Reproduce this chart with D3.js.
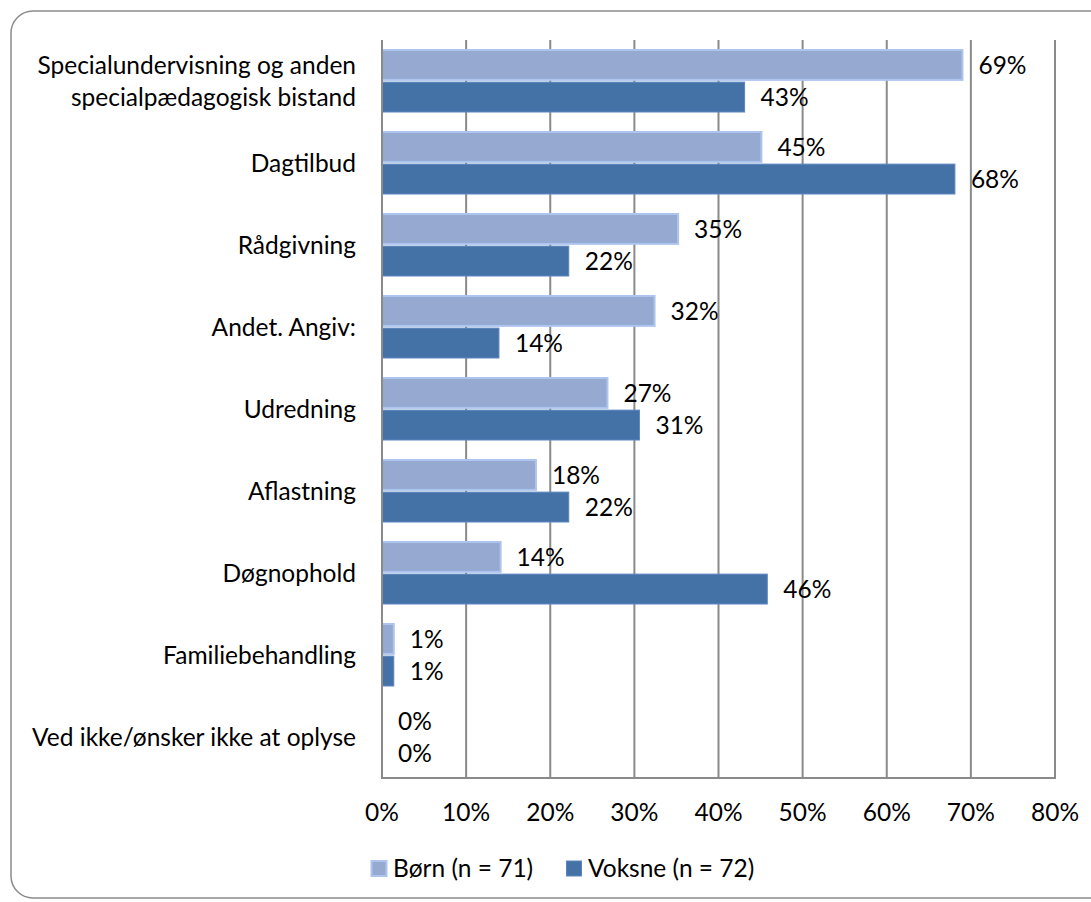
<!DOCTYPE html>
<html>
<head>
<meta charset="utf-8">
<script src="https://cdn.jsdelivr.net/npm/d3@7"></script>
<style>
  body { margin: 0; background: #fff; }
  text { font-family: Lato, "Noto Sans", sans-serif; fill: #000; }
</style>
</head>
<body>
<svg id="chart" width="1091" height="902"></svg>
<script>
const categories = [
    ["Specialundervisning og anden", "specialpædagogisk bistand"],
    ["Dagtilbud"],
    ["Rådgivning"],
    ["Andet. Angiv:"],
    ["Udredning"],
    ["Aflastning"],
    ["Døgnophold"],
    ["Familiebehandling"],
    ["Ved ikke/ønsker ikke at oplyse"]
];
const seriesNames = ["Børn (n = 71)", "Voksne (n = 72)"];
const born = [0.690, 0.451, 0.352, 0.324, 0.268, 0.183, 0.141, 0.014, 0];
const voksne = [0.431, 0.681, 0.222, 0.139, 0.306, 0.222, 0.458, 0.014, 0];
const ticks = [0, 0.1, 0.2, 0.3, 0.4, 0.5, 0.6, 0.7, 0.8];

const fills = ["#95a9d1", "#4472a7"];
const strokes = ["#adc4ee", "#5a86c0"];

const svg = d3.select("#chart");
const plot = {left: 382, right: 1055, top: 40, bottom: 778};
const fontSize = 24.5;

svg.append("rect")
    .attr("x", 11).attr("y", 11)
    .attr("width", 1110).attr("height", 887)
    .attr("rx", 22)
    .attr("fill", "none")
    .attr("stroke", "#8c8c8c")
    .attr("stroke-width", 1.5);

const x = d3.scaleLinear().domain([0, 0.8]).range([plot.left, plot.right]);
const keys = categories.map((c, i) => i);
const y = d3.scaleBand().domain(keys).range([plot.top, plot.bottom]);
const ySub = d3.scaleBand().domain([0, 1])
    .range([10, y.bandwidth() - 10]).paddingInner(0.07);

// gridlines
svg.append("g")
    .selectAll("line")
    .data(ticks.slice(1))
    .join("line")
    .attr("x1", d => x(d)).attr("x2", d => x(d))
    .attr("y1", plot.top).attr("y2", plot.bottom)
    .attr("stroke", "#8a8a8a")
    .attr("stroke-width", 2);

// bars
const rows = keys.map(i => ({i: i, values: [born[i], voksne[i]]}));
const groups = svg.append("g")
    .selectAll("g")
    .data(rows)
    .join("g")
    .attr("transform", d => "translate(0," + y(d.i) + ")");

groups.selectAll("rect")
    .data(d => d.values.map((v, s) => ({v: v, s: s})))
    .join("rect")
    .filter(d => d.v > 0)
    .attr("x", x(0))
    .attr("y", d => ySub(d.s))
    .attr("width", d => x(d.v) - x(0))
    .attr("height", ySub.bandwidth())
    .attr("fill", d => fills[d.s])
    .attr("stroke", d => strokes[d.s])
    .attr("stroke-width", d => d.s === 0 ? 2 : 1);

groups.selectAll("text")
    .data(d => d.values.map((v, s) => ({v: v, s: s})))
    .join("text")
    .attr("x", d => x(d.v) + 16)
    .attr("y", d => ySub(d.s) + ySub.bandwidth() / 2)
    .attr("dy", "0.36em")
    .attr("font-size", fontSize)
    .text(d => Math.round(d.v * 100) + "%");

// axes
svg.append("line")
    .attr("x1", plot.left).attr("x2", plot.left)
    .attr("y1", plot.top).attr("y2", plot.bottom)
    .attr("stroke", "#8a8a8a").attr("stroke-width", 2);
svg.append("line")
    .attr("x1", plot.left - 1).attr("x2", plot.right + 1)
    .attr("y1", plot.bottom).attr("y2", plot.bottom)
    .attr("stroke", "#8a8a8a").attr("stroke-width", 2);

svg.append("g")
    .selectAll("text")
    .data(ticks)
    .join("text")
    .attr("x", d => x(d))
    .attr("y", 812.5)
    .attr("dy", "0.36em")
    .attr("text-anchor", "middle")
    .attr("font-size", fontSize)
    .text(d => Math.round(d * 100) + "%");

// category labels
const catLabels = svg.append("g")
    .selectAll("text")
    .data(keys)
    .join("text")
    .attr("text-anchor", "end")
    .attr("font-size", fontSize)
    .attr("y", d => y(d) + y.bandwidth() / 2);

catLabels.selectAll("tspan")
    .data(d => categories[d].map((t, j, arr) => ({t: t, off: (j - (arr.length - 1) / 2) * 32})))
    .join("tspan")
    .attr("x", 356)
    .attr("dy", (d, j) => j === 0 ? (d.off + 8.8) : 32)
    .text(d => d.t);

// legend
const legendItems = [{x: 371, s: 0}, {x: 566, s: 1}];
const legend = svg.append("g")
    .selectAll("g")
    .data(legendItems)
    .join("g")
    .attr("transform", d => "translate(" + d.x + ",868.5)");
legend.append("rect")
    .attr("x", 0.5).attr("y", -7.5)
    .attr("width", 15).attr("height", 15)
    .attr("fill", d => fills[d.s])
    .attr("stroke", d => strokes[d.s])
    .attr("stroke-width", d => d.s === 0 ? 2 : 1);
legend.append("text")
    .attr("x", 22)
    .attr("dy", "0.36em")
    .attr("font-size", fontSize)
    .text(d => seriesNames[d.s]);
</script>
</body>
</html>
